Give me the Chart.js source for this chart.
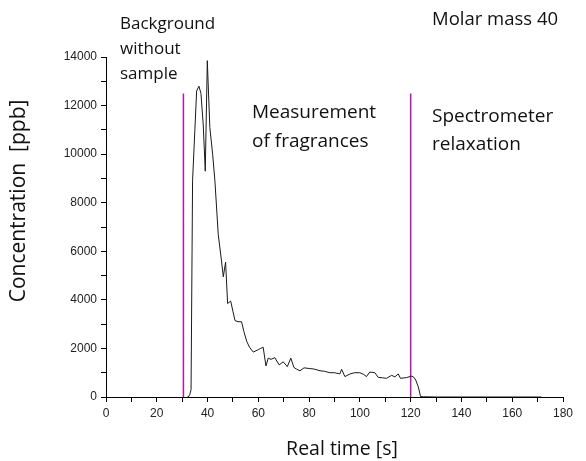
<!DOCTYPE html>
<html>
<head>
<meta charset="utf-8">
<script src="https://cdn.jsdelivr.net/npm/chart.js@4.4.1/dist/chart.umd.min.js"></script>
<style>
  html, body { margin: 0; padding: 0; background: #fff; }
  #wrap { width: 586px; height: 461px; }
</style>
</head>
<body>
<div id="wrap"><canvas id="chart"></canvas></div>
<script>
const timeS = [32, 32.4, 33, 33.5, 34.1, 35, 35.7, 36.6, 37.4, 38.3, 39.1, 39.9, 40.9, 42, 42.9,
  44.2, 45.5, 46.2, 47.1, 47.9, 49.1, 50.8, 52, 53.4, 54.3, 55.4, 56.5, 58, 60, 60.9, 61.9, 63,
  63.9, 65, 66.5, 68.2, 69.8, 71.4, 72.8, 74, 75, 76.4, 78, 80.3, 82, 84.3, 86, 88.2, 90, 92.1,
  92.8, 94.1, 96.1, 98, 100, 101.5, 102.6, 103.9, 105.9, 107.2, 109, 110.5, 112.5, 113.8, 115.1,
  116, 118.4, 120.3, 121.2, 122, 123, 123.9, 125, 130, 140, 150, 160, 171.5];
const concPpb = [0, 0, 100, 300, 8900, 11000, 12600, 12800, 12500, 11200, 9300, 13850, 11100, 10000, 8900,
  6700, 5600, 4950, 5550, 3850, 3950, 3150, 3100, 3100, 2700, 2300, 2050, 1850, 1950, 2000, 2050, 1280,
  1600, 1550, 1620, 1320, 1450, 1250, 1600, 1220, 1150, 1080, 1200, 1170, 1150, 1080, 1060, 1000, 1000, 950,
  1140, 840, 950, 1000, 1000, 930, 840, 1030, 1000, 810, 790, 770, 890, 830, 950,
  770, 800, 860, 820, 700, 420, 20, 10, 0, 0, 0, 0, 0];

// Phase boundaries (vertical markers)
const markerTimes = [30.5, 120];
const markerHeight = 12500;

// Axis ranges
const xMax = 180;
const yMax = 14000;

const xTitle = 'Real time [s]';
const yTitle = 'Concentration  [ppb]';

const notes = [
  { lines: ['Background', 'without', 'sample'], x: 120, y: 24, step: 25, size: 17 },
  { lines: ['Molar mass 40'], x: 432, y: 20, step: 25, size: 18.5 },
  { lines: ['Measurement', 'of fragrances'], x: 252, y: 113, step: 29, size: 19 },
  { lines: ['Spectrometer', 'relaxation'], x: 432, y: 117, step: 28, size: 19 }
];

const textFont = '"Open Sans", sans-serif';

// annotations and axis titles
const notesPlugin = {
  id: 'notes',
  afterDraw(chart) {
    const ctx = chart.ctx;
    ctx.save();
    ctx.fillStyle = '#111';
    ctx.textAlign = 'left';
    ctx.textBaseline = 'middle';
    notes.forEach(n => {
      ctx.font = n.size + 'px ' + textFont;
      n.lines.forEach((l, i) => ctx.fillText(l, n.x, n.y + i * n.step));
    });

    ctx.textAlign = 'center';
    ctx.font = '19.5px ' + textFont;
    ctx.fillText(xTitle, 342, 449);

    ctx.translate(19, 201);
    ctx.rotate(-Math.PI / 2);
    ctx.font = '21px ' + textFont;
    ctx.fillText(yTitle, 0, 0);
    ctx.restore();
  }
};

const markerSets = markerTimes.map(t => ({
  data: [{ x: t, y: 0 }, { x: t, y: markerHeight }],
  borderColor: '#b01aa0',
  borderWidth: 1.5,
  pointRadius: 0
}));

const tickFont = { family: '"Liberation Sans", Arial, sans-serif', size: 12 };

new Chart(document.getElementById('chart'), {
  type: 'line',
  data: {
    datasets: [
      {
        data: timeS.map((t, i) => ({ x: t, y: concPpb[i] })),
        borderColor: '#1a1a1a',
        borderWidth: 1,
        pointRadius: 0,
        tension: 0
      },
      ...markerSets
    ]
  },
  options: {
    responsive: true,
    maintainAspectRatio: false,
    animation: false,
    layout: { padding: { top: 57, right: 23, left: 0, bottom: 0 } },
    plugins: { legend: { display: false }, tooltip: { enabled: false } },
    scales: {
      x: {
        type: 'linear',
        min: 0,
        max: xMax,
        afterFit: s => { s.height = 64; },
        border: { color: '#000', width: 1 },
        grid: { drawOnChartArea: false, tickLength: 5, color: '#000' },
        ticks: {
          stepSize: 10,
          autoSkip: false,
          maxRotation: 0,
          padding: 4,
          color: '#222',
          font: tickFont,
          callback: v => (v % 20 === 0 ? v : '')
        }
      },
      y: {
        min: 0,
        max: yMax,
        afterFit: s => { s.width = 106; },
        border: { color: '#000', width: 1 },
        grid: { drawOnChartArea: false, tickLength: 5, color: '#000' },
        ticks: {
          stepSize: 1000,
          autoSkip: false,
          padding: 4,
          color: '#222',
          font: tickFont,
          callback: v => (v % 2000 === 0 ? v : '')
        }
      }
    }
  },
  plugins: [notesPlugin]
});
</script>
</body>
</html>
